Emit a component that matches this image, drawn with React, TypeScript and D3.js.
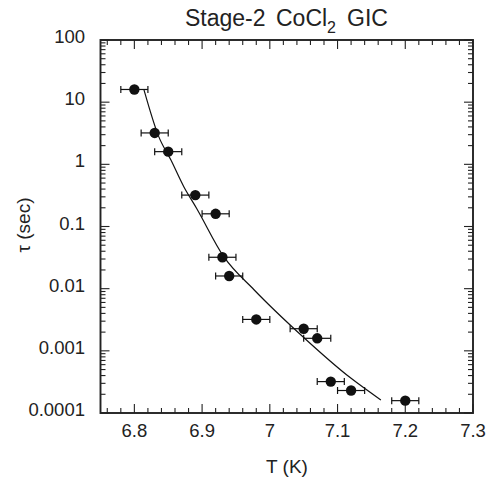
import React from "react";
import * as d3 from "d3";

// Data
const tempK = [6.80, 6.83, 6.85, 6.89, 6.92, 6.93, 6.94, 6.98, 7.05, 7.07, 7.09, 7.12, 7.20];
const tauSec = [16, 3.2, 1.6, 0.32, 0.16, 0.032, 0.016, 0.0032, 0.00227, 0.00159, 0.00032, 0.00023, 0.000158];
const tempErr = 0.02;

// Fit curve
const fitT = [6.814, 6.836, 6.854, 6.873, 6.892, 6.932, 6.977, 7.046, 7.120, 7.164];
const fitTau = [16.1, 2.79, 1.17, 0.436, 0.195, 0.0327, 0.00953, 0.0018, 0.000361, 0.000162];

const xTickValues = [6.8, 6.9, 7.0, 7.1, 7.2, 7.3];
const xTickLabels = ["6.8", "6.9", "7", "7.1", "7.2", "7.3"];
const yTickValues = [100, 10, 1, 0.1, 0.01, 0.001, 0.0001];
const yTickLabels = ["100", "10", "1", "0.1", "0.01", "0.001", "0.0001"];

const W = 487;
const H = 481;
const L = 100.5, R = 473, T = 40, B = 413;
const FONT = "'Liberation Sans', Arial, Helvetica, sans-serif";

export default function App() {
  const x = d3.scaleLinear().domain([6.75, 7.3]).range([L, R]);
  const y = d3.scaleLog().domain([0.0001, 100]).range([B, T]);

  const xMinor = d3.range(6.76, 7.2901, 0.02).filter(
    (v) => Math.abs(v * 10 - Math.round(v * 10)) > 0.01
  );
  const yMinor: number[] = [];
  for (let e = -4; e < 2; e++) {
    for (let m = 2; m <= 9; m++) yMinor.push(m * Math.pow(10, e));
  }

  const pts = tempK.map((t, i) => ({ t, tau: tauSec[i] }));
  const fit = fitT.map((t, i) => ({ t, tau: fitTau[i] }));
  const line = d3
    .line<{ t: number; tau: number }>()
    .x((d) => x(d.t))
    .y((d) => y(d.tau))
    .curve(d3.curveMonotoneX);

  const majLen = 9;
  const minLen = 5;

  return (
    <svg
      width={W}
      height={H}
      style={{ position: "absolute", left: 0, top: 0, background: "#fff" }}
      fontFamily={FONT}
    >
      <rect x={0} y={0} width={W} height={H} fill="#fff" />
      {/* title */}
      <text fontSize={23} fill="#222">
        <tspan x={185} y={26}>Stage-2</tspan>
        <tspan x={276} y={26}>CoCl</tspan>
        <tspan x={327} y={33} fontSize={16}>2</tspan>
        <tspan x={347} y={26}>GIC</tspan>
      </text>

      {/* ticks */}
      <g stroke="#222" strokeWidth={1.1}>
        {xTickValues.map((v) => (
          <g key={"xm" + v}>
            <line x1={x(v)} x2={x(v)} y1={B} y2={B - majLen} />
            <line x1={x(v)} x2={x(v)} y1={T} y2={T + majLen} />
          </g>
        ))}
        {xMinor.map((v) => (
          <g key={"xn" + v}>
            <line x1={x(v)} x2={x(v)} y1={B} y2={B - minLen} />
            <line x1={x(v)} x2={x(v)} y1={T} y2={T + minLen} />
          </g>
        ))}
        {yTickValues.map((v) => (
          <g key={"ym" + v}>
            <line x1={L} x2={L + majLen} y1={y(v)} y2={y(v)} />
            <line x1={R} x2={R - majLen} y1={y(v)} y2={y(v)} />
          </g>
        ))}
        {yMinor.map((v) => (
          <g key={"yn" + v}>
            <line x1={L} x2={L + minLen} y1={y(v)} y2={y(v)} />
            <line x1={R} x2={R - minLen} y1={y(v)} y2={y(v)} />
          </g>
        ))}
      </g>

      {/* frame */}
      <rect x={L} y={T} width={R - L} height={B - T} fill="none" stroke="#222" strokeWidth={1.9} />

      {/* tick labels */}
      <g fontSize={18.5} fill="#222">
        {xTickValues.map((v, i) => (
          <text key={"xl" + v} x={x(v)} y={437} textAnchor="middle">
            {xTickLabels[i]}
          </text>
        ))}
        {yTickValues.map((v, i) => (
          <text key={"yl" + v} x={85} y={y(v) + 3} textAnchor="end">
            {yTickLabels[i]}
          </text>
        ))}
      </g>

      {/* axis titles */}
      <text x={287} y={473} fontSize={19} textAnchor="middle" fill="#222">
        T (K)
      </text>
      <text
        transform={`translate(30,225) rotate(-90)`}
        fontSize={19}
        textAnchor="middle"
        fill="#222"
      >
        τ (sec)
      </text>

      {/* fit curve */}
      <path d={line(fit) || ""} fill="none" stroke="#111" strokeWidth={1.2} />

      {/* error bars */}
      <g stroke="#111" strokeWidth={1.2}>
        {pts.map((d, i) => (
          <g key={"e" + i}>
            <line x1={x(d.t - tempErr)} x2={x(d.t + tempErr)} y1={y(d.tau)} y2={y(d.tau)} />
            <line x1={x(d.t - tempErr)} x2={x(d.t - tempErr)} y1={y(d.tau) - 3.5} y2={y(d.tau) + 3.5} />
            <line x1={x(d.t + tempErr)} x2={x(d.t + tempErr)} y1={y(d.tau) - 3.5} y2={y(d.tau) + 3.5} />
          </g>
        ))}
      </g>

      {/* points */}
      {pts.map((d, i) => (
        <circle key={"p" + i} cx={x(d.t)} cy={y(d.tau)} r={5.2} fill="#111" />
      ))}
    </svg>
  );
}
